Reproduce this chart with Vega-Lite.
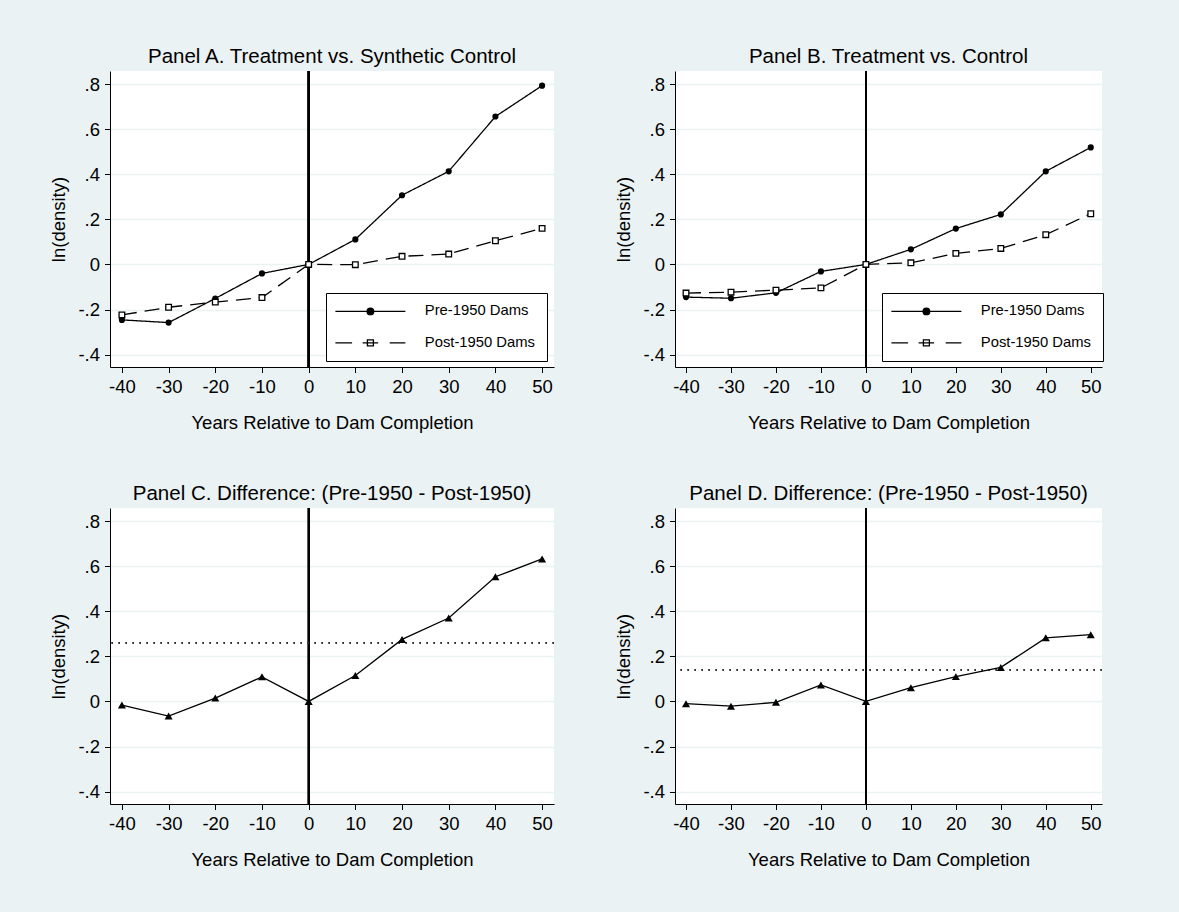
{
  "$schema": "https://vega.github.io/schema/vega-lite/v6.json",
  "background": "#EAF2F3",
  "padding": {"left": 49, "top": 46, "right": 76, "bottom": 43},
  "datasets": {
    "A": [
      {"year": -40, "series": "Pre-1950 Dams", "value": -0.246},
      {"year": -30, "series": "Pre-1950 Dams", "value": -0.258},
      {"year": -20, "series": "Pre-1950 Dams", "value": -0.151},
      {"year": -10, "series": "Pre-1950 Dams", "value": -0.040},
      {"year": 0, "series": "Pre-1950 Dams", "value": 0},
      {"year": 10, "series": "Pre-1950 Dams", "value": 0.111},
      {"year": 20, "series": "Pre-1950 Dams", "value": 0.307},
      {"year": 30, "series": "Pre-1950 Dams", "value": 0.413},
      {"year": 40, "series": "Pre-1950 Dams", "value": 0.656},
      {"year": 50, "series": "Pre-1950 Dams", "value": 0.793},
      {"year": -40, "series": "Post-1950 Dams", "value": -0.224},
      {"year": -30, "series": "Post-1950 Dams", "value": -0.190},
      {"year": -20, "series": "Post-1950 Dams", "value": -0.167},
      {"year": -10, "series": "Post-1950 Dams", "value": -0.147},
      {"year": 0, "series": "Post-1950 Dams", "value": 0},
      {"year": 10, "series": "Post-1950 Dams", "value": -0.001},
      {"year": 20, "series": "Post-1950 Dams", "value": 0.036},
      {"year": 30, "series": "Post-1950 Dams", "value": 0.046},
      {"year": 40, "series": "Post-1950 Dams", "value": 0.105},
      {"year": 50, "series": "Post-1950 Dams", "value": 0.160}
    ],
    "B": [
      {"year": -40, "series": "Pre-1950 Dams", "value": -0.145},
      {"year": -30, "series": "Pre-1950 Dams", "value": -0.150},
      {"year": -20, "series": "Pre-1950 Dams", "value": -0.126},
      {"year": -10, "series": "Pre-1950 Dams", "value": -0.031},
      {"year": 0, "series": "Pre-1950 Dams", "value": 0},
      {"year": 10, "series": "Pre-1950 Dams", "value": 0.067},
      {"year": 20, "series": "Pre-1950 Dams", "value": 0.159},
      {"year": 30, "series": "Pre-1950 Dams", "value": 0.222},
      {"year": 40, "series": "Pre-1950 Dams", "value": 0.413},
      {"year": 50, "series": "Pre-1950 Dams", "value": 0.519},
      {"year": -40, "series": "Post-1950 Dams", "value": -0.127},
      {"year": -30, "series": "Post-1950 Dams", "value": -0.123},
      {"year": -20, "series": "Post-1950 Dams", "value": -0.114},
      {"year": -10, "series": "Post-1950 Dams", "value": -0.104},
      {"year": 0, "series": "Post-1950 Dams", "value": 0},
      {"year": 10, "series": "Post-1950 Dams", "value": 0.007},
      {"year": 20, "series": "Post-1950 Dams", "value": 0.049},
      {"year": 30, "series": "Post-1950 Dams", "value": 0.071},
      {"year": 40, "series": "Post-1950 Dams", "value": 0.132},
      {"year": 50, "series": "Post-1950 Dams", "value": 0.225}
    ],
    "C": [
      {"year": -40, "value": -0.016},
      {"year": -30, "value": -0.065},
      {"year": -20, "value": 0.015},
      {"year": -10, "value": 0.109},
      {"year": 0, "value": 0},
      {"year": 10, "value": 0.115},
      {"year": 20, "value": 0.275},
      {"year": 30, "value": 0.370},
      {"year": 40, "value": 0.553},
      {"year": 50, "value": 0.632}
    ],
    "D": [
      {"year": -40, "value": -0.010},
      {"year": -30, "value": -0.021},
      {"year": -20, "value": -0.004},
      {"year": -10, "value": 0.073},
      {"year": 0, "value": 0},
      {"year": 10, "value": 0.061},
      {"year": 20, "value": 0.110},
      {"year": 30, "value": 0.151},
      {"year": 40, "value": 0.282},
      {"year": 50, "value": 0.296}
    ]
  },
  "config": {
    "font": "Liberation Sans",
    "view": {"stroke": null, "fill": "#ffffff"},
    "title": {"font": "Liberation Sans", "fontSize": 20.5, "fontWeight": "normal", "color": "#000", "offset": 3, "anchor": "middle"},
    "axis": {
      "labelFont": "Liberation Sans", "titleFont": "Liberation Sans",
      "labelFontSize": 18.5, "titleFontSize": 18.5, "titleFontWeight": "normal",
      "labelColor": "#000", "titleColor": "#000",
      "domainColor": "#000", "domainWidth": 1,
      "tickColor": "#000", "tickWidth": 1, "tickSize": 5.5,
      "labelPadding": 4.5, "grid": false
    },
    "axisX": {"titlePadding": 18},
    "axisY": {"grid": true, "gridColor": "#EAF2F3", "gridWidth": 1.5, "titlePadding": 9, "labelPadding": 5},
    "legend": {
      "labelFont": "Liberation Sans", "labelFontSize": 14.8, "labelColor": "#000",
      "fillColor": "#ffffff", "strokeColor": "#000", "padding": 11,
      "symbolSize": 100, "symbolOffset": 26, "labelOffset": 47, "rowPadding": 15.5,
      "symbolStrokeWidth": 1.3, "symbolOpacity": 1
    }
  },
  "spacing": 51,
  "vconcat": [
    {
      "hconcat": [
        {
          "width": 444, "height": 296,
          "title": "Panel A. Treatment vs. Synthetic Control",
          "data": {"name": "A"},
          "layer": [
            {"mark": {"type": "rule", "color": "#000", "strokeWidth": 1.5}, "encoding": {"x": {"datum": 0, "type": "quantitative"}}},
            {
              "mark": {"type": "line", "color": "#000", "strokeWidth": 1.3},
              "encoding": {
                "x": {"field": "year", "type": "quantitative", "scale": {"domain": [-42.55, 52.55], "nice": false, "zero": false},
                      "axis": {"title": "Years Relative to Dam Completion", "values": [-40,-30,-20,-10,0,10,20,30,40,50], "labelExpr": "replace(format(datum.value, 'd'), '\u2212', '-')"}},
                "y": {"field": "value", "type": "quantitative", "scale": {"domain": [-0.455, 0.858], "nice": false, "zero": false},
                      "axis": {"title": "ln(density)", "values": [-0.4,-0.2,0,0.2,0.4,0.6,0.8], "labelExpr": "datum.value == 0 ? '0' : replace(replace(format(datum.value, '.1f'), '\u2212', '-'), '0.', '.')"}},
                "strokeDash": {"field": "series", "type": "nominal", "scale": {"domain": ["Post-1950 Dams", "Pre-1950 Dams"], "range": [[15, 8], [1, 0]]}, "legend": null}
              }
            },
            {
              "transform": [{"filter": "datum.series === 'Pre-1950 Dams'"}],
              "mark": {"type": "point", "shape": "circle", "filled": true, "color": "#000", "size": 38, "opacity": 1},
              "encoding": {"x": {"field": "year", "type": "quantitative"}, "y": {"field": "value", "type": "quantitative"}}
            },
            {
              "transform": [{"filter": "datum.series === 'Post-1950 Dams'"}],
              "mark": {"type": "point", "shape": "square", "fill": "#fff", "stroke": "#000", "strokeWidth": 1.3, "size": 32, "opacity": 1, "fillOpacity": 1},
              "encoding": {"x": {"field": "year", "type": "quantitative"}, "y": {"field": "value", "type": "quantitative"}}
            },
            {
              "mark": {"type": "point", "strokeWidth": 1.3, "opacity": 0},
              "encoding": {
                "x": {"field": "year", "type": "quantitative"},
                "y": {"field": "value", "type": "quantitative"},
                "shape": {"field": "series", "type": "nominal", "scale": {"domain": ["Pre-1950 Dams", "Post-1950 Dams"], "range": ["M-7,0H7M0.66,0A0.66,0.66,0,1,1,-0.66,0A0.66,0.66,0,1,1,0.66,0Z", "M-7,0H-3.66M-1.55,0H1.55M-0.6,-0.6H0.6V0.6H-0.6ZM3.86,0H7"]},
                  "legend": {"title": null, "orient": "none", "legendX": 216, "legendY": 222}},
                "fill": {"field": "series", "type": "nominal", "scale": {"domain": ["Pre-1950 Dams", "Post-1950 Dams"], "range": ["#000", "#fff"]},
                  "legend": {"title": null, "orient": "none", "legendX": 216, "legendY": 222}},
                "stroke": {"field": "series", "type": "nominal", "scale": {"domain": ["Pre-1950 Dams", "Post-1950 Dams"], "range": ["#000", "#000"]},
                  "legend": {"title": null, "orient": "none", "legendX": 216, "legendY": 222}}
              }
            }
          ]
        },
        {
          "width": 427, "height": 296,
          "title": "Panel B. Treatment vs. Control",
          "data": {"name": "B"},
          "layer": [
            {"mark": {"type": "rule", "color": "#000", "strokeWidth": 1.5}, "encoding": {"x": {"datum": 0, "type": "quantitative"}}},
            {
              "mark": {"type": "line", "color": "#000", "strokeWidth": 1.3},
              "encoding": {
                "x": {"field": "year", "type": "quantitative", "scale": {"domain": [-42.45, 52.5], "nice": false, "zero": false},
                      "axis": {"title": "Years Relative to Dam Completion", "values": [-40,-30,-20,-10,0,10,20,30,40,50], "labelExpr": "replace(format(datum.value, 'd'), '\u2212', '-')"}},
                "y": {"field": "value", "type": "quantitative", "scale": {"domain": [-0.455, 0.858], "nice": false, "zero": false},
                      "axis": {"title": "ln(density)", "values": [-0.4,-0.2,0,0.2,0.4,0.6,0.8], "labelExpr": "datum.value == 0 ? '0' : replace(replace(format(datum.value, '.1f'), '\u2212', '-'), '0.', '.')"}},
                "strokeDash": {"field": "series", "type": "nominal", "scale": {"domain": ["Post-1950 Dams", "Pre-1950 Dams"], "range": [[15, 8], [1, 0]]}, "legend": null}
              }
            },
            {
              "transform": [{"filter": "datum.series === 'Pre-1950 Dams'"}],
              "mark": {"type": "point", "shape": "circle", "filled": true, "color": "#000", "size": 38, "opacity": 1},
              "encoding": {"x": {"field": "year", "type": "quantitative"}, "y": {"field": "value", "type": "quantitative"}}
            },
            {
              "transform": [{"filter": "datum.series === 'Post-1950 Dams'"}],
              "mark": {"type": "point", "shape": "square", "fill": "#fff", "stroke": "#000", "strokeWidth": 1.3, "size": 32, "opacity": 1, "fillOpacity": 1},
              "encoding": {"x": {"field": "year", "type": "quantitative"}, "y": {"field": "value", "type": "quantitative"}}
            },
            {
              "mark": {"type": "point", "strokeWidth": 1.3, "opacity": 0},
              "encoding": {
                "x": {"field": "year", "type": "quantitative"},
                "y": {"field": "value", "type": "quantitative"},
                "shape": {"field": "series", "type": "nominal", "scale": {"domain": ["Pre-1950 Dams", "Post-1950 Dams"], "range": ["M-7,0H7M0.66,0A0.66,0.66,0,1,1,-0.66,0A0.66,0.66,0,1,1,0.66,0Z", "M-7,0H-3.66M-1.55,0H1.55M-0.6,-0.6H0.6V0.6H-0.6ZM3.86,0H7"]},
                  "legend": {"title": null, "orient": "none", "legendX": 207, "legendY": 222}},
                "fill": {"field": "series", "type": "nominal", "scale": {"domain": ["Pre-1950 Dams", "Post-1950 Dams"], "range": ["#000", "#fff"]},
                  "legend": {"title": null, "orient": "none", "legendX": 207, "legendY": 222}},
                "stroke": {"field": "series", "type": "nominal", "scale": {"domain": ["Pre-1950 Dams", "Post-1950 Dams"], "range": ["#000", "#000"]},
                  "legend": {"title": null, "orient": "none", "legendX": 207, "legendY": 222}}
              }
            }
          ]
        }
      ],
      "spacing": 121,
      "bounds": "flush",
      "resolve": {"scale": {"shape": "independent", "fill": "independent", "stroke": "independent", "strokeDash": "independent", "x": "independent", "y": "independent"}, "legend": {"shape": "independent", "fill": "independent", "stroke": "independent"}}
    },
    {
      "hconcat": [
        {
          "width": 444, "height": 296,
          "title": "Panel C. Difference: (Pre-1950 - Post-1950)",
          "data": {"name": "C"},
          "layer": [
            {"mark": {"type": "rule", "color": "#000", "strokeWidth": 1.5}, "encoding": {"x": {"datum": 0, "type": "quantitative"}}},
            {"mark": {"type": "rule", "color": "#333", "strokeWidth": 1.2, "strokeDash": [1.2, 5.8]}, "encoding": {"y": {"datum": 0.26, "type": "quantitative"}}},
            {
              "mark": {"type": "line", "color": "#000", "strokeWidth": 1.3, "point": {"shape": "triangle-up", "filled": true, "size": 65, "color": "#000", "opacity": 1}},
              "encoding": {
                "x": {"field": "year", "type": "quantitative", "scale": {"domain": [-42.55, 52.55], "nice": false, "zero": false},
                      "axis": {"title": "Years Relative to Dam Completion", "values": [-40,-30,-20,-10,0,10,20,30,40,50], "labelExpr": "replace(format(datum.value, 'd'), '\u2212', '-')"}},
                "y": {"field": "value", "type": "quantitative", "scale": {"domain": [-0.455, 0.858], "nice": false, "zero": false},
                      "axis": {"title": "ln(density)", "values": [-0.4,-0.2,0,0.2,0.4,0.6,0.8], "labelExpr": "datum.value == 0 ? '0' : replace(replace(format(datum.value, '.1f'), '\u2212', '-'), '0.', '.')"}}
              }
            }
          ]
        },
        {
          "width": 427, "height": 296,
          "title": "Panel D. Difference: (Pre-1950 - Post-1950)",
          "data": {"name": "D"},
          "layer": [
            {"mark": {"type": "rule", "color": "#000", "strokeWidth": 1.5}, "encoding": {"x": {"datum": 0, "type": "quantitative"}}},
            {"mark": {"type": "rule", "color": "#333", "strokeWidth": 1.2, "strokeDash": [1.2, 5.8]}, "encoding": {"y": {"datum": 0.14, "type": "quantitative"}}},
            {
              "mark": {"type": "line", "color": "#000", "strokeWidth": 1.3, "point": {"shape": "triangle-up", "filled": true, "size": 65, "color": "#000", "opacity": 1}},
              "encoding": {
                "x": {"field": "year", "type": "quantitative", "scale": {"domain": [-42.45, 52.5], "nice": false, "zero": false},
                      "axis": {"title": "Years Relative to Dam Completion", "values": [-40,-30,-20,-10,0,10,20,30,40,50], "labelExpr": "replace(format(datum.value, 'd'), '\u2212', '-')"}},
                "y": {"field": "value", "type": "quantitative", "scale": {"domain": [-0.455, 0.858], "nice": false, "zero": false},
                      "axis": {"title": "ln(density)", "values": [-0.4,-0.2,0,0.2,0.4,0.6,0.8], "labelExpr": "datum.value == 0 ? '0' : replace(replace(format(datum.value, '.1f'), '\u2212', '-'), '0.', '.')"}}
              }
            }
          ]
        }
      ],
      "spacing": 121,
      "bounds": "flush",
      "resolve": {"scale": {"x": "independent", "y": "independent"}}
    }
  ]
}
